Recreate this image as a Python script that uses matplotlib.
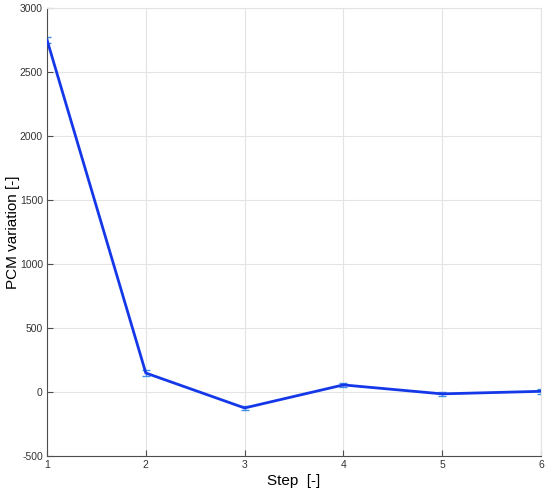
import matplotlib
matplotlib.use("Agg")
import matplotlib.pyplot as plt

steps = [1, 2, 3, 4, 5, 6]
pcm_variation = [2750, 148, -125, 55, -15, 5]
pcm_error = [22, 25, 15, 15, 15, 20]

plt.rcParams["font.family"] = ["Liberation Sans", "DejaVu Sans"]
plt.rcParams["axes.unicode_minus"] = False

fig = plt.figure(figsize=(5.5, 4.94), dpi=100)
ax = fig.add_axes([0.0855, 0.077, 0.898, 0.907])

ax.errorbar(steps, pcm_variation, yerr=pcm_error, fmt="none",
            ecolor="#3d8fe6", elinewidth=1.0, capsize=3, capthick=1.0, zorder=2)
ax.plot(steps, pcm_variation, color="#1438e8", linewidth=2, zorder=3)

ax.set_xlim(1, 6)
ax.set_ylim(-500, 3000)
ax.set_xticks(steps)
ax.set_yticks(range(-500, 3001, 500))
ax.grid(True, color="#e3e3e3", linewidth=0.8)
ax.set_axisbelow(True)

for side in ["top", "right"]:
    ax.spines[side].set_color("#e3e3e3")
for side in ["left", "bottom"]:
    ax.spines[side].set_color("#4d4d4d")
ax.tick_params(direction="in", length=4, labelsize=7.5, colors="#4d4d4d",
               labelcolor="#333333", top=False, right=False, pad=3)

ax.set_xlabel("Step  [-]", fontsize=11, labelpad=3)
ax.set_ylabel("PCM variation [-]", fontsize=11, labelpad=0)

fig.savefig("out.png", dpi=100)
